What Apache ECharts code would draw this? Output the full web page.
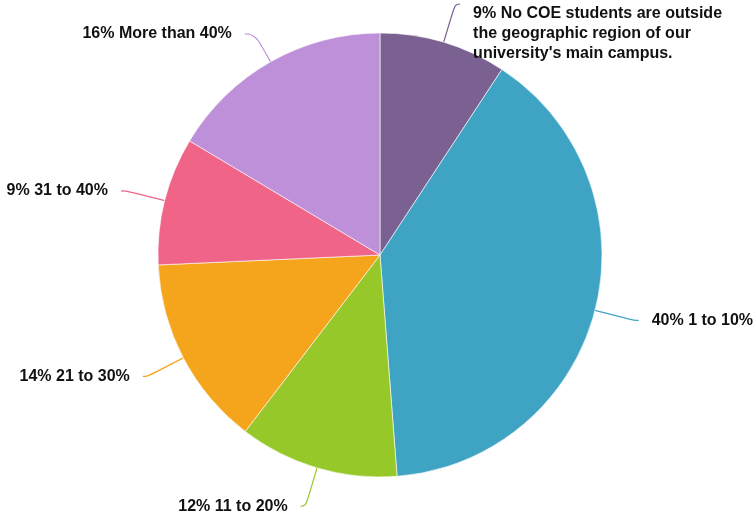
<!DOCTYPE html>
<html>
<head>
<meta charset="utf-8">
<script src="https://cdn.jsdelivr.net/npm/echarts@6/dist/echarts.min.js"></script>
<style>
  html, body { margin: 0; padding: 0; background: #fff; }
  #grafico { width: 756px; height: 519px; }
</style>
</head>
<body>
<div id="grafico"></div>
<script>
// Categorías y valores (porcentaje)
var categorias = [
  "No COE students are outside\nthe geographic region of our\nuniversity's main campus.",
  '1 to 10%',
  '11 to 20%',
  '21 to 30%',
  '31 to 40%',
  'More than 40%'
];
var valores = [9.25, 39.5, 11.6, 13.9, 9.3, 16.4];
var colores = ['#7b6191', '#3fa3c3', '#97c829', '#f5a51b', '#f06587', '#bf90da'];

var chart = echarts.init(document.getElementById('grafico'));

var option = {
  animation: false,
  color: colores,
  series: [
    {
      type: 'pie',
      center: [380, 255],
      radius: 222,
      startAngle: 90,
      clockwise: true,
      avoidLabelOverlap: false,
      data: categorias.map(function (c, i) {
        var item = { name: c, value: valores[i] };
        // la etiqueta de varias líneas baja respecto al extremo de la línea
        if (i === 0) {
          item.label = { offset: [0, 30] };
        }
        // línea más corta para la última porción
        if (i === 5) {
          item.labelLine = { length: 32, length2: 10 };
        }
        return item;
      }),
      itemStyle: {
        borderColor: '#fff',
        borderWidth: 0.6
      },
      label: {
        show: true,
        color: '#111',
        fontFamily: 'Liberation Sans, Arial, sans-serif',
        fontWeight: 'bold',
        fontSize: 16,
        lineHeight: 20,
        distanceToLabelLine: 13,
        formatter: function (p) {
          return Math.round(p.percent) + '% ' + p.name;
        }
      },
      labelLine: {
        show: true,
        length: 40,
        length2: 5,
        smooth: 0.5,
        lineStyle: { width: 1.2 }
      }
    }
  ]
};

chart.setOption(option);
</script>
</body>
</html>
